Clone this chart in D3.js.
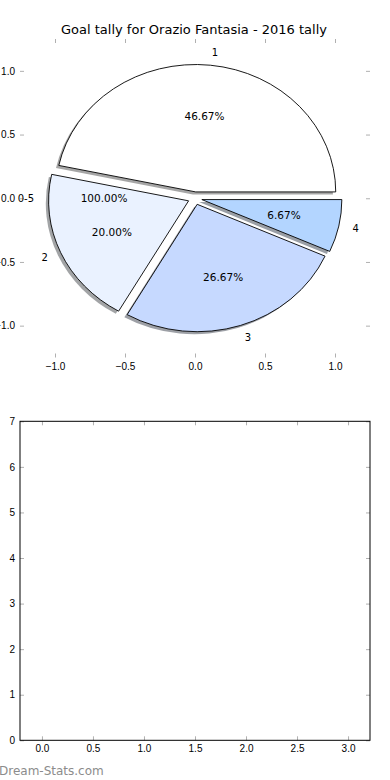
<!DOCTYPE html>
<html>
<head>
<meta charset="utf-8">
<script src="https://cdn.jsdelivr.net/npm/d3@7"></script>
<style>
  body { margin: 0; background: #fff; }
  svg { display: block; font-family: "DejaVu Sans", sans-serif; }
  .tick line { stroke: #b0b0b0; }
  .tick text { fill: #000; }
</style>
</head>
<body>
<div id="chart"></div>
<script>
// pie data
const sliceLabels = ["1", "2", "3", "4"];
const sliceValues = [7, 3, 4, 1];
// second (empty) pie that only left its texts behind
const extraLabels = ["0-5"];
const extraValues = [1];
// tick labels
const pieTicks = [-1.0, -0.5, 0.0, 0.5, 1.0];
const barXTicks = [0.0, 0.5, 1.0, 1.5, 2.0, 2.5, 3.0];
const barYTicks = [0, 1, 2, 3, 4, 5, 6, 7];

const sliceColors = ["#ffffff", "#eaf2ff", "#c6d9ff", "#b3d5ff"];
const explode = 0.05;

const W = 390, H = 780;
const svg = d3.select("#chart").append("svg")
  .attr("width", W).attr("height", H);

svg.append("text")
  .attr("x", 194).attr("y", 34)
  .attr("text-anchor", "middle")
  .style("font-size", "13px")
  .text("Goal tally for Orazio Fantasia - 2016 tally");

// ---- top axes (pie) ----
const x = d3.scaleLinear().domain([-1.25, 1.25]).range([20, 370]);
const y = d3.scaleLinear().domain([-1.25, 1.25]).range([357.5, 39]);

function ticks(g, axis) {
  g.call(axis.tickSizeInner(-4).tickSizeOuter(0).tickPadding(5))
  g.select(".domain").remove()
  g.selectAll("text").style("font-size", "10px")
}
svg.append("g").attr("transform", "translate(0," + y.range()[0] + ")")
  .call(g => ticks(g, d3.axisBottom(x).tickValues(pieTicks).tickFormat(d3.format(".1f"))))
svg.append("g").attr("transform", "translate(0," + y.range()[1] + ")")
  .call(g => ticks(g, d3.axisTop(x).tickValues(pieTicks).tickFormat("")))
svg.append("g").attr("transform", "translate(" + x.range()[0] + ",0)")
  .call(g => ticks(g, d3.axisLeft(y).tickValues(pieTicks).tickFormat(d3.format(".1f"))))
svg.append("g").attr("transform", "translate(" + x.range()[1] + ",0)")
  .call(g => ticks(g, d3.axisRight(y).tickValues(pieTicks).tickFormat("")))

const pie = d3.pie().sort(null).startAngle(0).endAngle(2 * Math.PI);

// unit-circle group, y flipped so angles run counter-clockwise from 3 o'clock
const unit = svg.append("g")
  .attr("transform", "translate(" + x(0) + "," + y(0) + ") scale(" + (x(1) - x(0)) + "," + (y(1) - y(0)) + ")");

function wedgePath(a, dx, dy) {
  const mid = (a.startAngle + a.endAngle) / 2;
  const cx = explode * Math.cos(mid) + dx, cy = explode * Math.sin(mid) + dy;
  const p = d3.path();
  p.moveTo(cx, cy);
  p.arc(cx, cy, 1, a.startAngle, a.endAngle, false);
  p.closePath();
  return p.toString();
}

const arcs = pie(sliceValues);

// shadows
unit.selectAll("path.shadow").data(arcs).enter().append("path")
  .attr("class", "shadow")
  .attr("d", a => wedgePath(a, -0.02, -0.02))
  .attr("fill", (a, i) => { const c = d3.rgb(sliceColors[i]); return d3.rgb(c.r * 0.3, c.g * 0.3, c.b * 0.3); })
  .attr("opacity", 0.5);

// wedges
unit.selectAll("path.wedge").data(arcs).enter().append("path")
  .attr("class", "wedge")
  .attr("d", a => wedgePath(a, 0, 0))
  .attr("fill", (a, i) => sliceColors[i])
  .attr("stroke", "#000")
  .attr("stroke-width", 0.9)
  .attr("vector-effect", "non-scaling-stroke");

function pieTexts(arcList, labels, values) {
  const total = d3.sum(values);
  arcList.forEach((a, i) => {
    const mid = (a.startAngle + a.endAngle) / 2;
    const c = Math.cos(mid), s = Math.sin(mid);
    const lx = (explode + 1.1) * c, ly = (explode + 1.1) * s;
    svg.append("text")
      .attr("x", x(lx)).attr("y", y(ly))
      .attr("dy", "0.35em")
      .attr("text-anchor", lx > 0 ? "start" : "end")
      .style("font-size", "10px")
      .text(labels[i]);
    svg.append("text")
      .attr("x", x((explode + 0.6) * c)).attr("y", y((explode + 0.6) * s))
      .attr("dy", "0.35em")
      .attr("text-anchor", "middle")
      .style("font-size", "10.5px")
      .text((values[i] / total * 100).toFixed(2) + "%");
  });
}
pieTexts(arcs, sliceLabels, sliceValues);
pieTexts(pie(extraValues), extraLabels, extraValues);

// ---- bottom axes (empty) ----
const x2 = d3.scaleLinear().domain([-0.215, 3.215]).range([20, 370]);
const y2 = d3.scaleLinear().domain([0, 7]).range([740.3, 421.3]);

svg.append("g").attr("transform", "translate(0," + y2.range()[0] + ")")
  .call(g => ticks(g, d3.axisBottom(x2).tickValues(barXTicks).tickFormat(d3.format(".1f"))))
svg.append("g").attr("transform", "translate(0," + y2.range()[1] + ")")
  .call(g => ticks(g, d3.axisTop(x2).tickValues(barXTicks).tickFormat("")))
svg.append("g").attr("transform", "translate(" + x2.range()[0] + ",0)")
  .call(g => ticks(g, d3.axisLeft(y2).tickValues(barYTicks).tickFormat(d3.format("d"))))
svg.append("g").attr("transform", "translate(" + x2.range()[1] + ",0)")
  .call(g => ticks(g, d3.axisRight(y2).tickValues(barYTicks).tickFormat("")))

svg.append("rect")
  .attr("x", x2.range()[0]).attr("y", y2.range()[1])
  .attr("width", x2.range()[1] - x2.range()[0])
  .attr("height", y2.range()[0] - y2.range()[1])
  .attr("fill", "none").attr("stroke", "#000").attr("stroke-width", 1);

svg.append("text")
  .attr("x", -1).attr("y", 775)
  .style("font-size", "12px")
  .style("fill", "#8c8c8c")
  .text("Dream-Stats.com");
</script>
</body>
</html>
